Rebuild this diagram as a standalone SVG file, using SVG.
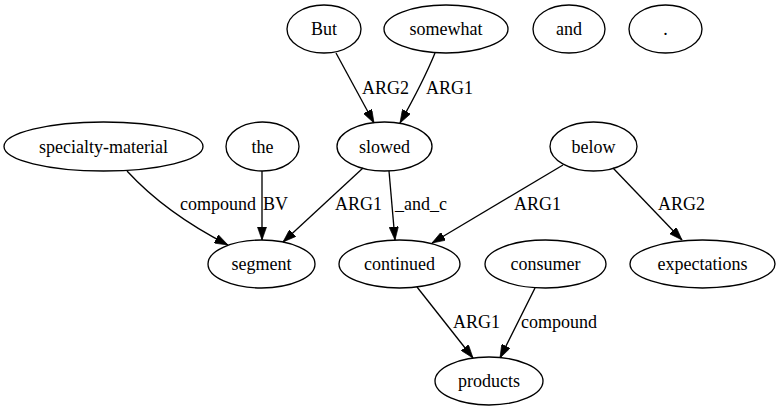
<svg xmlns="http://www.w3.org/2000/svg" width="780" height="411" viewBox="0 0 780 411">
<style>
.n ellipse{fill:none;stroke:#000;stroke-width:1.33}
.n text{text-anchor:middle}
.e path{fill:none;stroke:#000;stroke-width:1.33;marker-end:url(#ah)}
</style>
<defs>
<marker id="ah" viewBox="0 0 10 7" refX="10" refY="3.5" markerWidth="13.3" markerHeight="9.3" markerUnits="userSpaceOnUse" orient="auto">
<path d="M0,0 L10,3.5 L0,7 z" fill="#000" stroke="#000" stroke-width="0.5"/>
</marker>
</defs>
<rect width="780" height="411" fill="#fff"/>
<g font-family="Liberation Serif, Times New Roman, DejaVu Serif, serif" font-size="18" fill="#000">
<g id="edges" class="e">
<path d="M336,53 L374,123"/>
<path d="M435,53 C426,75 413,100 400,123"/>
<path d="M127,171 C150,196 185,223 228,245"/>
<path d="M262,171 L262,240"/>
<path d="M363,168 L283,242"/>
<path d="M389,171 C391,195 393,218 395,240"/>
<path d="M563,165 L432,243"/>
<path d="M613,168 L682,240"/>
<path d="M417,287 L473,358"/>
<path d="M535,288 L500,358"/>
<text x="362" y="94">ARG2</text>
<text x="426" y="94">ARG1</text>
<text x="180" y="210">compound</text>
<text x="263" y="210">BV</text>
<text x="335" y="210">ARG1</text>
<text x="395" y="210">_and_c</text>
<text x="514" y="210">ARG1</text>
<text x="658" y="210">ARG2</text>
<text x="453" y="328">ARG1</text>
<text x="521" y="328">compound</text>
</g>
<g id="n_but" class="n"><ellipse cx="324" cy="29" rx="37" ry="24"/><text x="324" y="35">But</text></g>
<g id="n_somewhat" class="n"><ellipse cx="446" cy="29" rx="62" ry="24"/><text x="446" y="35">somewhat</text></g>
<g id="n_and" class="n"><ellipse cx="569" cy="29" rx="36" ry="24"/><text x="569" y="35">and</text></g>
<g id="n_dot" class="n"><ellipse cx="665.5" cy="29" rx="36.5" ry="24"/><text x="665.5" y="35">.</text></g>
<g id="n_specialty" class="n"><ellipse cx="103.5" cy="146.5" rx="99.5" ry="24.5"/><text x="103.5" y="152.5">specialty-material</text></g>
<g id="n_the" class="n"><ellipse cx="262.5" cy="146.5" rx="36.5" ry="24.5"/><text x="262.5" y="152.5">the</text></g>
<g id="n_slowed" class="n"><ellipse cx="384.5" cy="146.5" rx="47.5" ry="24.5"/><text x="384.5" y="152.5">slowed</text></g>
<g id="n_below" class="n"><ellipse cx="593.5" cy="146.5" rx="43.5" ry="24.5"/><text x="593.5" y="152.5">below</text></g>
<g id="n_segment" class="n"><ellipse cx="261.5" cy="264" rx="53.5" ry="24"/><text x="261.5" y="270">segment</text></g>
<g id="n_continued" class="n"><ellipse cx="399.5" cy="264" rx="60.5" ry="24"/><text x="399.5" y="270">continued</text></g>
<g id="n_consumer" class="n"><ellipse cx="545.5" cy="264" rx="60.5" ry="24"/><text x="545.5" y="270">consumer</text></g>
<g id="n_expectations" class="n"><ellipse cx="702.5" cy="264" rx="72.5" ry="24"/><text x="702.5" y="270">expectations</text></g>
<g id="n_products" class="n"><ellipse cx="489" cy="381" rx="54" ry="24"/><text x="489" y="387">products</text></g>
</g>
</svg>
